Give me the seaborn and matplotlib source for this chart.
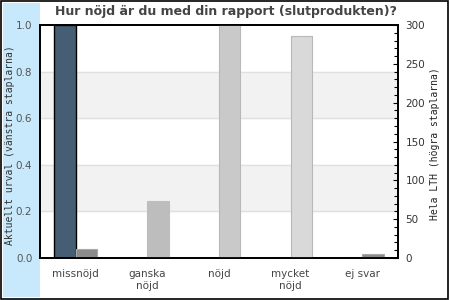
import matplotlib
matplotlib.use("Agg")
import matplotlib.pyplot as plt
import seaborn as sns
import pandas as pd
import numpy as np
from matplotlib.patches import Rectangle
from matplotlib.ticker import MultipleLocator

categories = ["missnöjd", "ganska\nnöjd", "nöjd", "mycket\nnöjd", "ej svar"]
aktuellt = [1.0, 0.0, 0.0, 0.0, 0.0]
hela_lth = [12, 73, 305, 286, 5]
series = ["Aktuellt urval", "Hela LTH"]
right_colors = ["#8c8c8c", "#bdbdbd", "#c9c9c9", "#d9d9d9", "#8c8c8c"]
right_edges = ["#a8a8a8", "#bdbdbd", "#b8b8b8", "#b8b8b8", "#a8a8a8"]

title = "Hur nöjd är du med din rapport (slutprodukten)?"
left_label = "Aktuellt urval (vänstra staplarna)"
right_label = "Hela LTH (högra staplarna)"

sns.set_style("white")
plt.rcParams["font.family"] = ["DejaVu Sans"]

fig = plt.figure(figsize=(4.5, 3), dpi=100)
fig.patch.set_facecolor("white")
fig.patches.append(Rectangle((3/450, 3/300), 37/450, 294/300, transform=fig.transFigure,
                             facecolor="#c8e8fc", edgecolor="none", zorder=-1))
fig.patches.append(Rectangle((1/450, 1/300), 447/450, 298/300, transform=fig.transFigure,
                             facecolor="none", edgecolor="black", lw=1.2, zorder=5))

ax = fig.add_axes([40/450, 1 - 258/300, 358/450, 233/300])
ax.set_facecolor("white")
ax2 = ax.twinx()

df_l = pd.concat([pd.DataFrame({"cat": categories, "val": aktuellt, "series": series[0]}),
                  pd.DataFrame({"cat": categories, "val": [np.nan]*5, "series": series[1]})],
                 ignore_index=True)
df_r = pd.concat([pd.DataFrame({"cat": categories, "val": [np.nan]*5, "series": series[0]}),
                  pd.DataFrame({"cat": categories, "val": hela_lth, "series": series[1]})],
                 ignore_index=True)

# background stripes & grid
for lo, hi in [(0.2, 0.4), (0.6, 0.8)]:
    ax.axhspan(lo, hi, color="#f2f2f2", zorder=0)
for y in [0.2, 0.4, 0.6, 0.8]:
    ax.axhline(y, color="#e0e0e0", lw=1, zorder=0.5)

sns.barplot(data=df_l, x="cat", y="val", hue="series", hue_order=series, order=categories,
            ax=ax, width=0.6, dodge=True, palette=["#3e5f7b", "#8c8c8c"],
            edgecolor="black", linewidth=1.0, legend=False, errorbar=None, zorder=2)
sns.barplot(data=df_r, x="cat", y="val", hue="series", hue_order=series, order=categories,
            ax=ax2, width=0.6, dodge=True, palette=["#3e5f7b", "#8c8c8c"],
            legend=False, errorbar=None, zorder=2)
bars2 = [p for p in ax2.patches if np.isfinite(p.get_height()) and p.get_height() > 0]
bars2.sort(key=lambda p: p.get_x())
for p, fc, ec in zip(bars2, right_colors, right_edges):
    p.set_facecolor(fc)
    p.set_edgecolor(ec)
    p.set_linewidth(0.8)

ax.set_ylim(0, 1.0)
ax2.set_ylim(0, 300)
ax.set_xlim(-0.5, 4.5)
ax.set_xlabel("")
ax.set_ylabel("")
ax2.set_xlabel("")
ax2.set_ylabel("")

ax.set_yticks([0.0, 0.2, 0.4, 0.6, 0.8, 1.0])
ax.set_yticklabels(["0.0", "0.2", "0.4", "0.6", "0.8", "1.0"])
ax.tick_params(axis="y", length=0, pad=5.5, labelsize=7.5, labelcolor="#555555", labelleft=True)
ax.tick_params(axis="x", length=0, pad=8, labelsize=7.5, labelcolor="#444444")
for lab in ax.get_xticklabels():
    lab.set_verticalalignment("top")

ax2.yaxis.set_major_locator(MultipleLocator(50))
ax2.yaxis.set_minor_locator(MultipleLocator(10))
ax2.tick_params(axis="y", which="major", direction="in", length=3.5, width=0.8,
                pad=5.5, labelsize=7.5, labelcolor="#333333", color="black")
ax2.tick_params(axis="y", which="minor", direction="in", length=3, width=0.8, color="black")

for a in (ax, ax2):
    for s in a.spines.values():
        s.set_visible(True)
        s.set_color("black")
        s.set_linewidth(1.3)

fig.text(226/450, 1 - 12/300, title, ha="center", va="center", fontsize=9,
         fontweight="bold", color="#444444")
fig.text(10/450, 1 - 145/300, left_label, rotation=90, ha="center", va="center",
         fontsize=7, family="DejaVu Sans Mono", color="#333333")
fig.text(435/450, 1 - 144/300, right_label, rotation=90, ha="center", va="center",
         fontsize=7, family="DejaVu Sans Mono", color="#222222")

fig.savefig("out.png", dpi=100)
